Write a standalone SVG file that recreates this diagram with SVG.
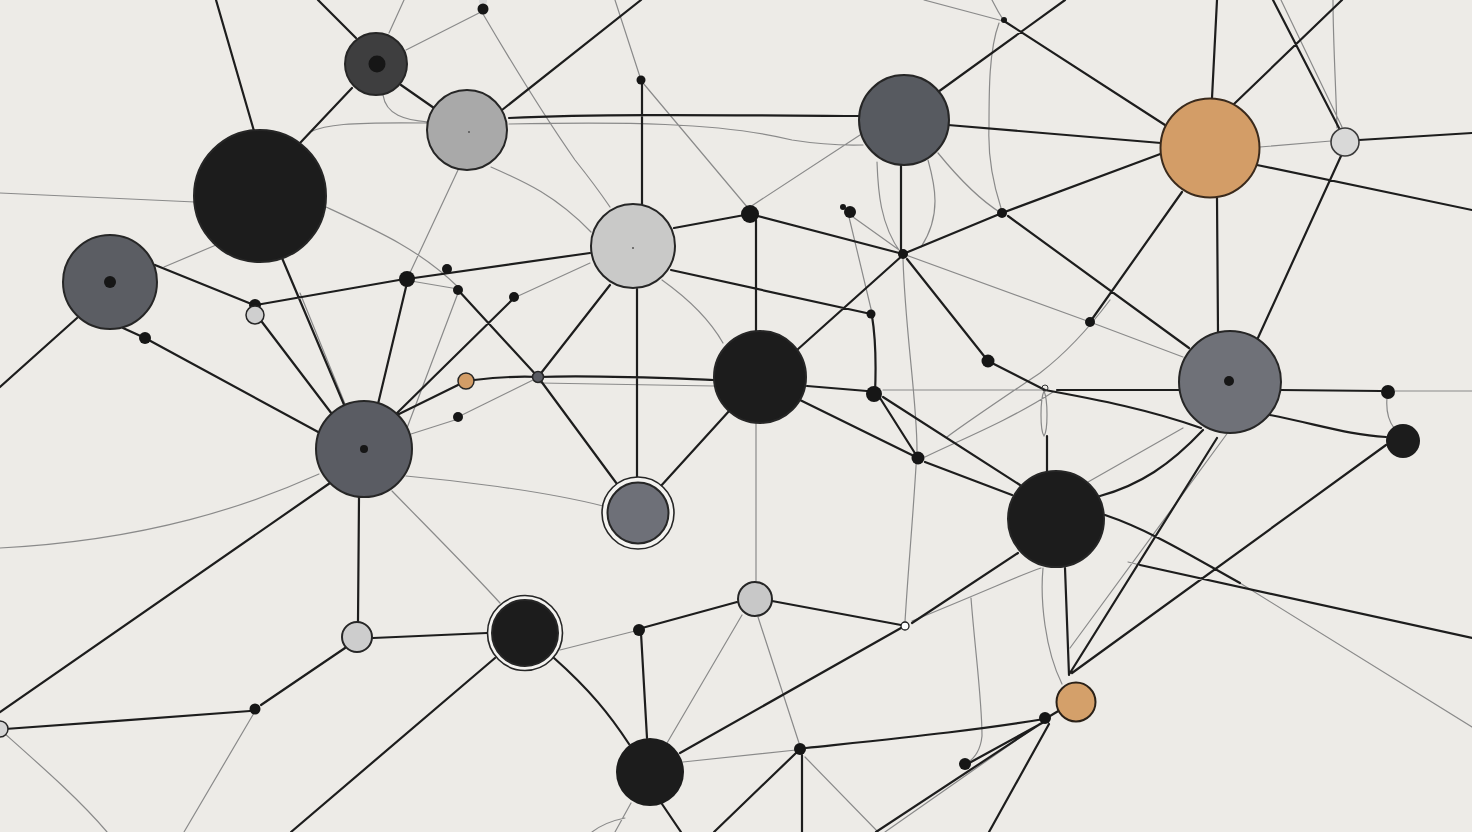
<svg xmlns="http://www.w3.org/2000/svg" width="1472" height="832" viewBox="0 0 1472 832">
<style>
.k{stroke:#1d1d1d;stroke-width:2.2;fill:none;stroke-linecap:round;stroke-linejoin:round}
.g{stroke:#8a8a8a;stroke-width:1.2;fill:none;stroke-linecap:round}
.n{stroke:#262626;stroke-width:2}
.blk{fill:#1c1c1c}
.d{fill:#161616}
.ring{fill:#f4f3f0;stroke:#262626;stroke-width:1.6}
</style>
<rect width="1472" height="832" fill="#edebe7"/>
<g id="connectors">
<path class="g" d="M404,0 L389,33 M406,50 L479,13 M383,95 C386,115 405,120 428,122 M310,132 C325,125 345,122 428,123 M509,124 C620,122 720,122 792,140 Q830,146 863,145 M483,14 C510,60 540,110 575,160 Q595,185 610,207 M615,0 L641,80 M643,83 L748,208 M0,193 L195,202 M164,267 L216,245 M326,207 C380,232 420,250 458,287 M458,170 L408,277 M491,167 C525,182 555,195 591,232 M411,281 L458,289 M458,293 L407,428 M590,263 L516,297 M533,380 L460,416 M458,419 L411,434 M540,383 C600,384 660,385 714,386 M662,280 C690,300 710,320 723,343 M860,135 L750,207 M877,162 C878,190 880,225 901,253 M928,160 C935,185 942,215 921,247 M938,153 C960,180 980,200 1001,213 M1001,208 C992,180 988,150 989,127 C989,90 989,50 999,23 M924,0 L1003,21 M992,0 C996,8 1000,15 1004,21 M1333,0 C1333,40 1336,90 1337,128 M1281,0 L1342,127 M1260,147 L1331,141 M903,254 L1090,322 L1183,357 M1110,300 C1095,320 1070,350 1040,373 C1000,400 970,420 947,437 M925,457 C960,440 1010,420 1053,392 M883,390 L1043,390 M1044,391 C1040,400 1040,430 1044,436 C1048,430 1048,400 1044,391 M903,258 C905,330 917,400 917,450 C913,520 908,570 905,622 M849,217 L872,313 M853,217 L902,252 M1395,391 L1472,391 M1387,398 C1386,410 1388,420 1394,428 M1183,428 L1088,482 M1240,583 L1472,727 M1128,562 L1140,565 M1229,431 L1070,648 M1043,568 C1040,600 1045,650 1062,684 M756,423 L756,581 M1041,568 C1020,575 1000,585 912,621 M971,598 C975,650 982,700 982,736 Q980,755 967,763 M560,650 L635,631 M683,762 L796,750 M742,615 L667,743 M758,617 L799,743 M805,757 L878,832 M885,832 L1035,727 M592,832 Q605,822 625,818 M631,803 L615,832 M319,474 C250,505 150,540 0,548 M406,476 C450,480 540,490 603,506 M392,491 C430,530 470,570 500,603 M4,733 C40,765 80,800 107,832 M254,713 L184,832 M300,293 L345,404"/>
<path class="k" d="M216,0 L254,131 M318,0 L356,38 M352,88 L300,143 M401,85 L434,108 M502,110 L641,0 M509,118 C600,114 700,115 859,116 M642,84 L642,204 M674,228 L750,214 M671,270 L871,314 M872,316 C876,340 876,370 875,394 M637,289 L637,478 M610,285 L538,377 M590,253 L407,279 M399,280 L256,305 M155,265 L249,303 M262,322 L335,418 M282,258 L345,407 M406,287 L378,404 M514,298 L394,416 M458,385 L397,415 M123,328 L145,338 L320,433 M77,318 L0,387 M458,290 L538,377 L617,484 M474,380 C500,377 520,376 538,377 C600,375 660,378 714,380 M750,214 L903,254 M756,220 L756,332 M797,350 L903,255 M901,165 L901,253 M903,254 L1002,213 M1002,213 L1163,153 M1008,216 L1189,348 M1065,0 L938,92 M1004,21 L1165,125 M948,125 L1161,143 M1212,98 L1217,0 M1234,104 L1342,0 M1273,0 L1339,128 M1359,140 L1472,133 M1257,165 L1472,210 M1182,192 L1090,322 M1217,198 L1218,332 M1341,156 L1257,340 M907,259 L988,361 M988,361 L1045,390 C1100,400 1150,410 1201,428 M1057,390 L1180,390 M1047,436 L1047,472 M807,386 L867,391 M800,400 L918,458 M880,398 L918,458 M883,397 L1020,485 M925,462 L1012,495 M1203,430 C1170,465 1140,485 1100,496 M1105,515 C1150,530 1195,558 1240,583 M1140,565 L1472,638 M1217,438 L1070,673 M1065,568 L1069,675 M1072,673 L1386,445 M1280,390 L1381,391 M1270,415 C1320,425 1350,435 1386,437 M730,410 L660,487 M737,602 L642,628 M641,633 L647,738 M772,601 L901,625 M912,623 L1018,553 M680,753 L901,628 M806,748 C900,738 980,730 1044,719 M802,755 L802,832 M796,753 L714,832 M971,762 L1044,722 M876,832 L1040,724 M989,832 L1049,724 M1045,719 L1060,710 M554,658 C590,690 610,715 629,744 M662,804 L681,832 M359,497 L358,622 M373,638 L487,633 M345,648 L261,705 M250,711 C180,716 80,724 5,729 M330,483 L0,712 M495,658 L291,832"/>
</g>
<g id="dots">
<circle cx="483" cy="1" r="4" fill="#d8d8d8"/>
<circle cx="483" cy="9" r="5.5" class="d"/>
<circle cx="641" cy="80" r="4.5" class="d"/>
<circle cx="750" cy="214" r="9" class="d"/>
<circle cx="850" cy="212" r="6" class="d"/><circle cx="843" cy="207" r="3" class="d"/>
<circle cx="903" cy="254" r="5" class="d"/>
<circle cx="1002" cy="213" r="5" class="d"/>
<circle cx="1004" cy="20" r="3" class="d"/>
<circle cx="1090" cy="322" r="5" class="d"/>
<circle cx="988" cy="361" r="6.5" class="d"/>
<circle cx="871" cy="314" r="4.5" class="d"/>
<circle cx="874" cy="394" r="8" class="d"/>
<circle cx="918" cy="458" r="6.5" class="d"/>
<circle cx="1388" cy="392" r="7" class="d"/>
<circle cx="1045" cy="718" r="6" class="d"/>
<circle cx="965" cy="764" r="6" class="d"/>
<circle cx="800" cy="749" r="6" class="d"/>
<circle cx="905" cy="626" r="4" fill="#fff" stroke="#1d1d1d" stroke-width="1.3"/>
<circle cx="1045" cy="388" r="3" fill="none" stroke="#333" stroke-width="1"/>
<circle cx="639" cy="630" r="6" class="d"/>
<circle cx="255" cy="709" r="5.5" class="d"/>
<circle cx="407" cy="279" r="8" class="d"/>
<circle cx="447" cy="269" r="5" class="d"/>
<circle cx="458" cy="290" r="5" class="d"/>
<circle cx="514" cy="297" r="5" class="d"/>
<circle cx="466" cy="381" r="8" fill="#d39d67" stroke="#262626" stroke-width="1.5"/>
<circle cx="538" cy="377" r="5.5" fill="#5a5c63" stroke="#262626" stroke-width="1.5"/>
<circle cx="458" cy="417" r="5" class="d"/>
<circle cx="145" cy="338" r="6" class="d"/>
<circle cx="255" cy="305" r="6" class="d"/>
<circle cx="255" cy="315" r="9" fill="#cfcfcf" stroke="#262626" stroke-width="1.5"/>
<circle cx="0" cy="729" r="8" fill="#d5d5d5" stroke="#262626" stroke-width="1.5"/>
</g>
<g id="n1"><circle cx="376" cy="64" r="31" fill="#3e3e3f" class="n"/><circle cx="377" cy="64" r="8.5" class="d"/></g>
<g id="n2"><circle cx="467" cy="130" r="40" fill="#a9a9a9" class="n"/><circle cx="469" cy="132" r="1" fill="#555"/></g>
<g id="n3"><circle cx="260" cy="196" r="66" class="blk n"/></g>
<g id="n4"><circle cx="110" cy="282" r="47" fill="#5b5d63" class="n"/><circle cx="110" cy="282" r="6" class="d"/></g>
<g id="n5"><circle cx="633" cy="246" r="42" fill="#c9c9c8" class="n"/><circle cx="633" cy="248" r="1" fill="#555"/></g>
<g id="n6"><circle cx="904" cy="120" r="45" fill="#575a60" class="n"/></g>
<g id="n7"><circle cx="1210" cy="148" r="49.5" fill="#d39d67" stroke="#3a2a1c" stroke-width="2"/></g>
<g id="n8"><circle cx="1345" cy="142" r="14" fill="#d9d9d8" stroke="#3a3a3a" stroke-width="1.6"/></g>
<g id="n9"><circle cx="760" cy="377" r="46" class="blk n"/></g>
<g id="n10"><circle cx="1230" cy="382" r="51" fill="#6f7178" class="n"/><circle cx="1229" cy="381" r="5" class="d"/></g>
<g id="n11"><circle cx="1056" cy="519" r="48" class="blk n"/></g>
<g id="n12"><circle cx="364" cy="449" r="48" fill="#5a5c63" class="n"/><circle cx="364" cy="449" r="4" class="d"/></g>
<g id="n13"><circle cx="638" cy="513" r="36" class="ring"/><circle cx="638" cy="513" r="30.5" fill="#6e7078" class="n"/></g>
<g id="n14"><circle cx="755" cy="599" r="17" fill="#c8c8c8" class="n"/></g>
<g id="n15"><circle cx="1403" cy="441" r="17" class="blk"/></g>
<g id="n16"><circle cx="357" cy="637" r="15" fill="#cdcdcd" class="n"/></g>
<g id="n17"><circle cx="525" cy="633" r="37.5" class="ring"/><circle cx="525" cy="633" r="33" class="blk n"/></g>
<g id="n18"><circle cx="650" cy="772" r="34" class="blk"/></g>
<g id="n19"><circle cx="1076" cy="702" r="19.5" fill="#d4a06a" stroke="#2a2118" stroke-width="2"/></g>
</svg>
